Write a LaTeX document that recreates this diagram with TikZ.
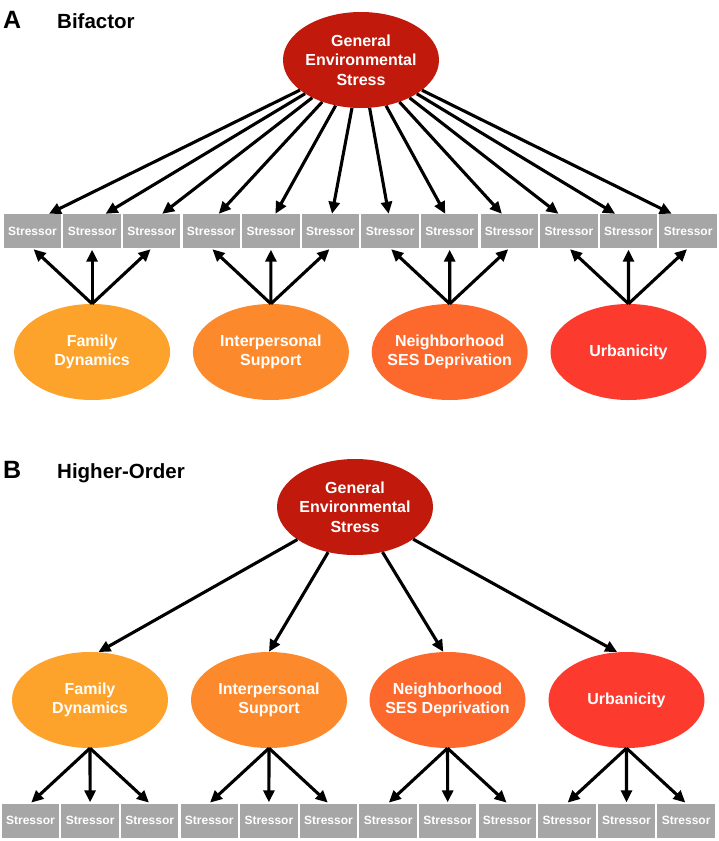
\documentclass[tikz,border=0pt]{standalone}
\usepackage{fontspec}
\setmainfont{Liberation Sans}
\usetikzlibrary{positioning, arrows.meta, shapes.geometric, calc}
\definecolor{genred}{RGB}{193,25,11}
\definecolor{famorange}{RGB}{253,162,43}
\definecolor{intorange}{RGB}{252,137,44}
\definecolor{ngborange}{RGB}{253,104,45}
\definecolor{urbred}{RGB}{252,58,46}
\definecolor{boxgray}{RGB}{166,166,166}

\begin{document}
\begin{tikzpicture}[
    x=1pt, y=-1pt,
    latent/.style={
        ellipse,
        minimum width=156pt,
        minimum height=96pt,
        inner sep=-12pt,
        align=center,
        text=white,
        font=\fontsize{16}{19.5}\selectfont\bfseries
    },
    stressor/.style={
        rectangle,
        fill=boxgray,
        minimum width=57.5pt,
        minimum height=34pt,
        inner sep=0pt,
        text=white,
        font=\fontsize{12}{14}\selectfont\bfseries
    },
    loading/.style={
        -{Triangle[length=12pt,width=11pt]},
        line width=3.1pt,
        color=black
    },
    paneltag/.style={
        anchor=base west,
        inner sep=0pt,
        font=\fontsize{25}{29}\selectfont\bfseries
    },
    paneltitle/.style={
        anchor=base west,
        inner sep=0pt,
        font=\fontsize{20.5}{24}\selectfont\bfseries
    }
]
\useasboundingbox (0,0) rectangle (719,841);

% Panel A: bifactor
\node[paneltag] (tagA) at (3,28) {A};
\node[paneltitle] (titleA) at (57,28) {Bifactor};
\node[latent, fill=genred] (genA) at (361,60) {General\\Environmental\\Stress};
\foreach \i in {0,...,11}{
    \node[stressor] (sA\i) at ({32.5+59.6*\i},231) {Stressor};
}
\node[latent, fill=famorange] (famA) at (92.1,352) {Family\\Dynamics};
\node[latent, fill=intorange] (intA) at (270.9,352) {Interpersonal\\Support};
\node[latent, fill=ngborange] (ngbA) at (449.7,352) {Neighborhood\\SES Deprivation};
\node[latent, fill=urbred] (urbA) at (628.5,352) {Urbanicity};

% general factor loadings
\foreach \i in {0,...,11}{
    \pgfmathsetmacro\dx{0.05*(361-32.5-59.6*\i)}
    \draw[loading] (genA) -- ($(sA\i.north)+(\dx,0)$);
}
% specific factor loadings
\foreach \f/\a/\b/\c in {famA/0/1/2, intA/3/4/5, ngbA/6/7/8, urbA/9/10/11}{
    \foreach \s in {\a,\b,\c}
        \draw[loading, shorten >=1.5pt] (\f.north) -- (sA\s.south);
}

% Panel B: higher-order
\node[paneltag] (tagB) at (3,478) {B};
\node[paneltitle] (titleB) at (57,478) {Higher-Order};
\node[latent, fill=genred] (genB) at (355,507) {General\\Environmental\\Stress};
\node[latent, fill=famorange] (famB) at (90,700) {Family\\Dynamics};
\node[latent, fill=intorange] (intB) at (269,700) {Interpersonal\\Support};
\node[latent, fill=ngborange] (ngbB) at (447.5,700) {Neighborhood\\SES Deprivation};
\node[latent, fill=urbred] (urbB) at (626.5,700) {Urbanicity};
\foreach \i in {0,...,11}{
    \node[stressor] (sB\i) at ({30.5+59.6*\i},820.5) {Stressor};
}

% second-order loadings
\draw[loading] (genB) -- (famB.80);
\draw[loading] (genB) -- (intB.north);
\draw[loading] (genB) -- (ngbB.95);
\draw[loading] (genB) -- (urbB.101);
% first-order loadings
\foreach \f/\a/\b/\c in {famB/0/1/2, intB/3/4/5, ngbB/6/7/8, urbB/9/10/11}{
    \foreach \s in {\a,\b,\c}
        \draw[loading, shorten >=1pt] (\f.south) -- (sB\s.north);
}

\end{tikzpicture}
\end{document}
